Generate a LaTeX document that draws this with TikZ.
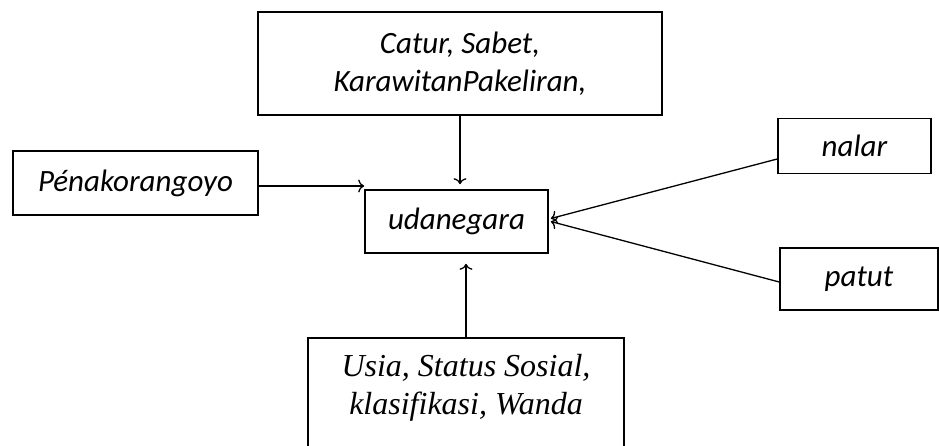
\documentclass[tikz,border=0pt]{standalone}
\usepackage{fontspec}
\usetikzlibrary{arrows.meta}
\setmainfont{Carlito}
\newfontfamily\usiafont{Liberation Serif}
\begin{document}
\begin{tikzpicture}[
            x=1pt, y=1pt,
            box/.style={rectangle, draw, line width=1.6pt, align=center, font=\itshape\fontsize{31}{38}\selectfont},
            arrow/.style={-{To[length=6pt,width=13pt]}, line width=1.3pt}
        ]
        \useasboundingbox (0,0) rectangle (939,-446);
        \clip (0,0) rectangle (939,-446);

        % Centre box
        \node[box, minimum width=183pt, minimum height=63pt] (uda) at (456.5,-221.5) {udanegara};

        % Boxes around it
        \node[box, above of=uda, node distance=158pt, xshift=3.5pt, minimum width=404pt, minimum height=103pt] (garap) {Catur, Sabet,\\KarawitanPakeliran,};
        \node[box, left of=uda, node distance=321pt, yshift=38.5pt, minimum width=245pt, minimum height=64pt] (pena) {Pénakorangoyo};
        \node[box, right of=uda, node distance=398pt, yshift=75.5pt, minimum width=153pt, minimum height=55pt] (nalar) {nalar};
        \node[box, right of=uda, node distance=402.5pt, yshift=-57.5pt, minimum width=158pt, minimum height=62pt] (patut) {patut};
        \node[box, anchor=north, minimum width=316pt, inner ysep=16pt, font=\usiafont\itshape\fontsize{32}{38}\selectfont] (usia) at (466,-337) {Usia, Status Sosial,\\klasifikasi, Wanda\\\rule{0pt}{50pt}};

        % Arrows into the centre box
        \draw[arrow] (garap.south) -- ([yshift=5pt]uda.north -| garap.south);
        \draw[arrow] ([yshift=-3pt]pena.east) -- ([yshift=-3pt]pena.east -| uda.west);
        \draw[arrow] (usia.north) -- ([yshift=-10pt]uda.south -| usia.north);
        \draw[arrow] ([yshift=-13pt]nalar.west) -- ([xshift=2pt,yshift=3pt]uda.east);
        \draw[arrow] ([yshift=-3pt]patut.west) -- ([xshift=2pt]uda.east);

    \end{tikzpicture}
\end{document}
